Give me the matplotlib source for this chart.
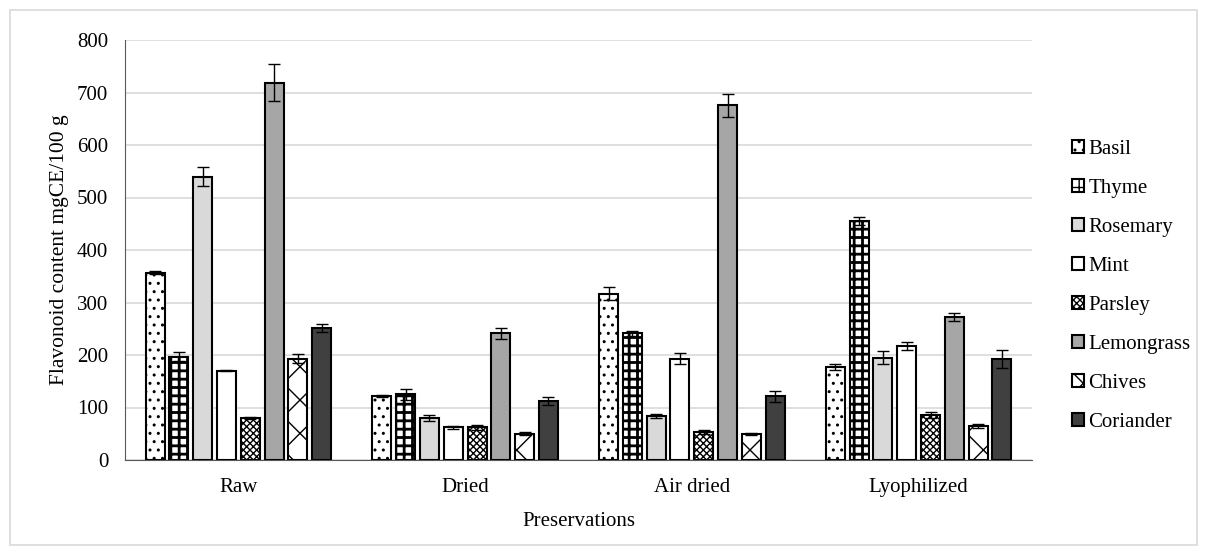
import numpy as np
import matplotlib
matplotlib.use('Agg')
import matplotlib.pyplot as plt
from matplotlib.patches import Rectangle

plt.rcParams['font.family'] = ['Liberation Serif', 'DejaVu Serif']
plt.rcParams['font.size'] = 15

categorias = ['Raw', 'Dried', 'Air dried', 'Lyophilized']
ervas = ['Basil', 'Thyme', 'Rosemary', 'Mint', 'Parsley', 'Lemongrass', 'Chives', 'Coriander']

# valores por erva, na ordem das categorias
basil = [357, 122, 317, 177]
thyme = [197, 125, 241, 455]
rosemary = [540, 80, 84, 195]
mint = [170, 62, 193, 217]
parsley = [80, 62, 53, 86]
lemongrass = [719, 241, 676, 272]
chives = [193, 50, 49, 65]
coriander = [252, 112, 121, 193]

basil_err = [3, 2, 13, 6]
thyme_err = [9, 10, 5, 7]
rosemary_err = [18, 5, 4, 12]
mint_err = [1, 2, 10, 7]
parsley_err = [2, 4, 4, 6]
lemongrass_err = [35, 10, 22, 8]
chives_err = [9, 3, 2, 4]
coriander_err = [8, 8, 10, 17]

valores = [basil, thyme, rosemary, mint, parsley, lemongrass, chives, coriander]
erros = [basil_err, thyme_err, rosemary_err, mint_err, parsley_err, lemongrass_err, chives_err, coriander_err]

estilos = [
    ('white', '..', 1.0),
    ('white', '++', 2.0),
    ('#d9d9d9', None, 1.0),
    ('white', None, 1.0),
    ('white', 'xxxxx', 1.0),
    ('#a6a6a6', None, 1.0),
    ('white', 'x', 1.0),
    ('#404040', None, 1.0),
]

fig = plt.figure(figsize=(12.07, 5.55), dpi=100)
ax = fig.add_axes([125 / 1207, 1 - 460 / 555, 907 / 1207, 420 / 555])

x = np.arange(len(categorias))
passo = 0.105
largura = 0.084

for i, (nome, vals, errs) in enumerate(zip(ervas, valores, erros)):
    cor, hatch, hlw = estilos[i]
    pos = x + (i - 3.5) * passo
    with plt.rc_context({'hatch.linewidth': hlw}):
        ax.bar(pos, vals, width=largura, color=cor, edgecolor='black', linewidth=1.5,
               hatch=hatch, label=nome, zorder=3)
    ax.errorbar(pos, vals, yerr=errs, fmt='none', ecolor='black', elinewidth=1,
                capsize=4, capthick=1, zorder=4)

ax.set_xlim(-0.5, 3.5)
ax.set_ylim(0, 800)
ax.set_yticks(np.arange(0, 801, 100))
ax.set_xticks(x)
ax.set_xticklabels(categorias)
ax.tick_params(axis='y', length=0, labelsize=15, pad=12)
ax.tick_params(axis='x', length=0, labelsize=15, pad=13)
ax.grid(axis='y', color='#d9d9d9', linewidth=1.2, zorder=0)
for lado in ['top', 'right']:
    ax.spines[lado].set_visible(False)
ax.spines['left'].set_color('#595959')
ax.spines['bottom'].set_color('#595959')

ax.set_ylabel('Flavonoid content mgCE/100 g', fontsize=15.5, labelpad=6)
ax.set_xlabel('Preservations', fontsize=15, labelpad=11)

ax.legend(loc='center left', bbox_to_anchor=(1.023, 0.415), frameon=False,
          fontsize=15, handlelength=0.6, handleheight=0.6, handletextpad=0.2,
          labelspacing=0.96)

fig.patches.append(Rectangle((10 / 1207, 10 / 555), 1187 / 1207, 535 / 555,
                             transform=fig.transFigure, fill=False,
                             edgecolor='#d9d9d9', linewidth=1.2))

plt.savefig('out.png', dpi=100)
